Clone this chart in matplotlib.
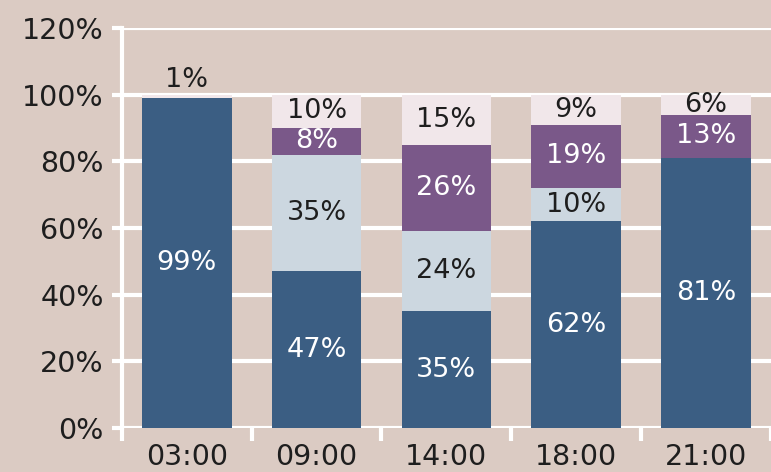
import numpy as np
import matplotlib.pyplot as plt

plt.rcParams['font.family'] = ['DejaVu Sans']

hours = ['03:00', '09:00', '14:00', '18:00', '21:00']
seg1 = [99, 47, 35, 62, 81]   # dark blue
seg2 = [0, 35, 24, 10, 0]     # light blue-grey
seg3 = [0, 8, 26, 19, 13]     # purple
seg4 = [1, 10, 15, 9, 6]      # pale pink

bg = '#dbcbc3'
colors = ['#3b5e83', '#ccd7e0', '#7a5889', '#f1e7ea']
text_colors = ['white', '#1e1e1e', 'white', '#1e1e1e']

fig = plt.figure(figsize=(7.71, 4.72), dpi=100, facecolor=bg)
ax = fig.add_axes([0.158, 0.0932, 0.842, 0.8475], facecolor=bg)

x = np.arange(len(hours))
bottom = np.zeros(len(hours))
for vals, c, tc in zip([seg1, seg2, seg3, seg4], colors, text_colors):
    vals = np.array(vals, dtype=float)
    ax.bar(x, vals, 0.69, bottom=bottom, color=c, zorder=3)
    for i, v in enumerate(vals):
        if v <= 0:
            continue
        # tiny segments get their label above the bar
        if v < 3:
            ypos = bottom[i] + v + 4.5
        else:
            ypos = bottom[i] + v / 2
        ax.text(x[i], ypos, '%d%%' % v, ha='center', va='center',
                color=tc if v >= 3 else '#1e1e1e', fontsize=19.5, zorder=4)
    bottom += vals

ax.set_xlim(-0.5, 4.5)
ax.set_ylim(0, 120)
ax.set_yticks(np.arange(0, 121, 20))
ax.set_yticklabels(['%d%%' % t for t in range(0, 121, 20)])
ax.set_xticks(x)
ax.set_xticklabels(hours)
ax.set_xticks(np.arange(-0.5, 4.6, 1), minor=True)

ax.grid(axis='y', color='white', linewidth=3, zorder=0)
for s in ['top', 'right', 'bottom']:
    ax.spines[s].set_visible(False)
ax.spines['left'].set_color('white')
ax.spines['left'].set_linewidth(3)

ax.tick_params(axis='y', colors='white', width=3, length=7, labelsize=20.5,
               labelcolor='#1e1e1e', pad=6)
ax.tick_params(axis='x', which='major', length=0, labelsize=20.5,
               labelcolor='#1e1e1e', pad=11)
ax.tick_params(axis='x', which='minor', colors='white', width=3, length=9,
               direction='out')

fig.savefig('out.png', dpi=100, facecolor=bg)
